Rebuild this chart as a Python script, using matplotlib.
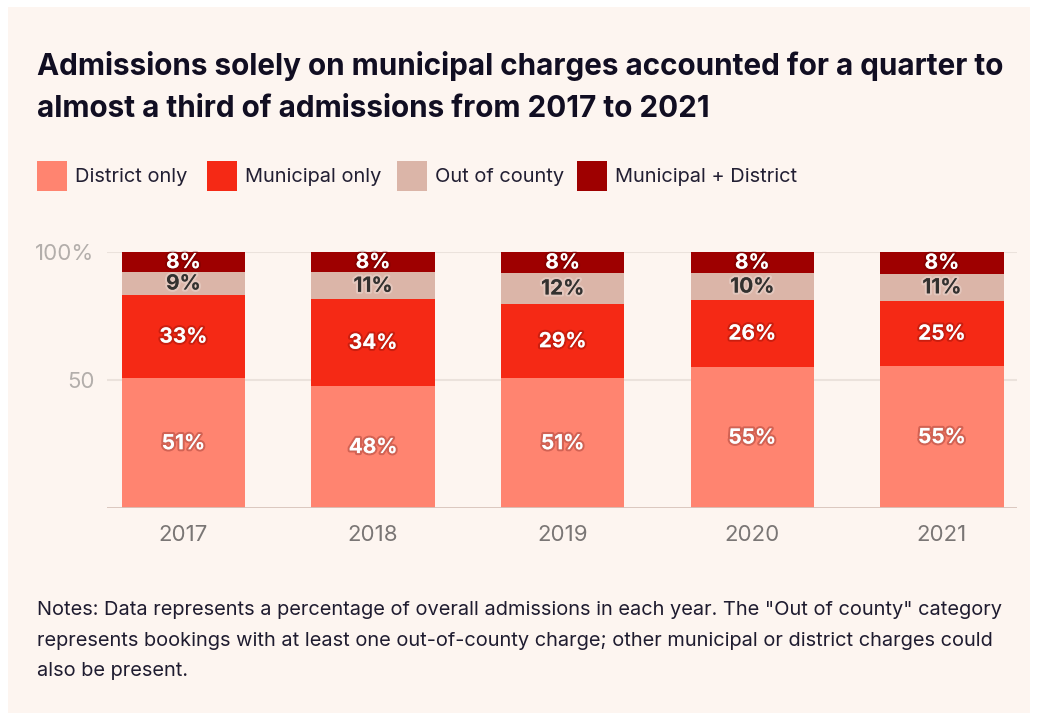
import matplotlib.pyplot as plt
import matplotlib.patheffects as pe
from matplotlib.patches import Rectangle

plt.rcParams['font.family'] = ['Inter', 'DejaVu Sans']

years = ['2017', '2018', '2019', '2020', '2021']
district_only = [50.6, 47.6, 50.6, 55.0, 55.4]
municipal_only = [32.7, 33.9, 29.1, 26.3, 25.4]
out_of_county = [8.8, 10.6, 12.1, 10.4, 10.8]
municipal_district = [7.9, 7.9, 8.2, 8.3, 8.4]

series_names = ['District only', 'Municipal only', 'Out of county', 'Municipal + District']
series_colors = ['#ff8470', '#f52915', '#dbb5a8', '#9e0000']

title_lines = ['Admissions solely on municipal charges accounted for a quarter to',
               'almost a third of admissions from 2017 to 2021']
note_lines = ['Notes: Data represents a percentage of overall admissions in each year. The "Out of county" category',
              'represents bookings with at least one out-of-county charge; other municipal or district charges could',
              'also be present.']

W, H = 1037, 717
bg = '#fdf5f0'
fig = plt.figure(figsize=(W / 100, H / 100), dpi=100)
fig.patch.set_facecolor('white')
fig.patches.append(Rectangle((8 / W, 4 / H), 1022 / W, 706 / H, transform=fig.transFigure,
                             facecolor=bg, edgecolor='none', zorder=-10))

def fy(py):
    return 1 - py / H

# title
for i, line in enumerate(title_lines):
    fig.text(37 / W, fy(75 + 42 * i), line, fontsize=21.4, fontweight='bold',
             color='#110e22', va='baseline', ha='left')

# legend, drawn by hand
leg_x = [37, 207, 397, 577]
for name, col, x in zip(series_names, series_colors, leg_x):
    fig.patches.append(Rectangle((x / W, fy(191)), 30 / W, 30 / H, transform=fig.transFigure,
                                 facecolor=col, edgecolor='none'))
    fig.text((x + 38) / W, fy(177), name, fontsize=14.4, color='#221f33', va='center', ha='left')

ax = fig.add_axes([107 / W, fy(508), 910 / W, 256 / H])
ax.set_facecolor('none')

series = [district_only, municipal_only, out_of_county, municipal_district]
x = list(range(len(years)))
bottom = [0] * len(years)
for k, (vals, col) in enumerate(zip(series, series_colors)):
    ax.bar(x, vals, bottom=bottom, width=0.65, color=col, zorder=2)
    for i, v in enumerate(vals):
        if k == 2:
            tc = '#33312f'
            eff = [pe.withStroke(linewidth=3, foreground=(1, 1, 1, 0.25))]
        else:
            tc = 'white'
            eff = [pe.withStroke(linewidth=3, foreground=(0.3, 0, 0, 0.25))]
        ax.text(i, bottom[i] + v / 2, f'{round(v)}%', ha='center', va='center',
                fontsize=15, fontweight='bold', color=tc, path_effects=eff, zorder=3)
    bottom = [b + v for b, v in zip(bottom, vals)]

ax.set_xlim(-0.403, 4.396)
ax.set_ylim(0, 100)
ax.set_xticks(x)
ax.set_xticklabels(years)
ax.set_yticks([50, 100])
ax.set_yticklabels(['50', '100%'])
ax.tick_params(axis='x', length=0, pad=12, labelsize=16, labelcolor='#7a7675')
ax.tick_params(axis='y', length=0, pad=9, labelsize=16, labelcolor='#b3aeab')
for yv in [50, 100]:
    ax.axhline(yv, color='#ebe2dc', linewidth=1.5, zorder=1)
ax.axhline(0, color='#d7c3bb', linewidth=2, zorder=3)
for s in ax.spines.values():
    s.set_visible(False)

for i, line in enumerate(note_lines):
    fig.text(37 / W, fy(615 + 30.5 * i), line, fontsize=14.4, color='#1f1c30',
             va='baseline', ha='left')

fig.savefig('out.png', dpi=100, facecolor=fig.get_facecolor())
